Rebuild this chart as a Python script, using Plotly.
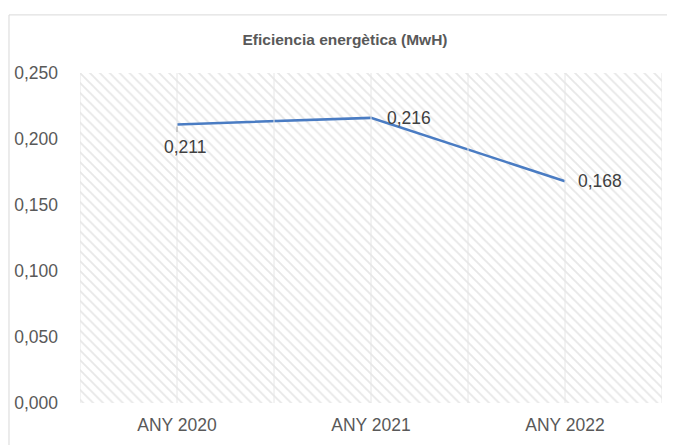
import plotly.graph_objects as go

categories = ["ANY 2020", "ANY 2021", "ANY 2022"]
values = [0.211, 0.216, 0.168]
label_texts = ["0,211", "0,216", "0,168"]
y_ticks = [0, 0.05, 0.10, 0.15, 0.20, 0.25]

FONT = "Liberation Sans, Arial"
GRAY = "#595959"
x_idx = list(range(len(categories)))

fig = go.Figure()

# hatched plot-area background
fig.add_trace(go.Scatter(
    x=[-0.5, 2.5, 2.5, -0.5, -0.5], y=[0, 0, 0.25, 0.25, 0],
    fill="toself", mode="none", fillcolor="rgba(0,0,0,0)",
    fillpattern=dict(shape="\\", fgcolor="#cfcfcf", bgcolor="white", size=7, solidity=0.26),
    hoverinfo="skip", showlegend=False,
))

fig.add_trace(go.Scatter(
    x=x_idx, y=values, mode="lines",
    line=dict(color="#4A7CC3", width=2.5),
    showlegend=False,
))

offsets = [(8, -23, "center"), (14, 0, "left"), (11, 0, "left")]
for xi, v, t, (dx, dy, xa) in zip(x_idx, values, label_texts, offsets):
    fig.add_annotation(x=xi, y=v, text=t, showarrow=False, xshift=dx, yshift=dy,
                       xanchor=xa, yanchor="middle",
                       font=dict(family=FONT, size=17.5, color="#404040"))

# small leader line for first label
fig.add_annotation(x=x_idx[0], y=values[0], ax=0, ay=9, text="", showarrow=True,
                   arrowhead=0, arrowwidth=1, arrowcolor="#a6a6a6", standoff=2)

fig.add_shape(type="rect", xref="paper", yref="paper", x0=-0.122, y0=-0.3, x1=1.1, y1=1.176,
              line=dict(color="#d9d9d9", width=1), fillcolor="rgba(0,0,0,0)", layer="below")

fig.update_layout(
    width=683, height=453,
    margin=dict(l=72, r=29, t=65, b=58, autoexpand=False),
    paper_bgcolor="white", plot_bgcolor="white",
    separators=",.",
    title=dict(text="<b>Eficiencia energètica (MwH)</b>", x=(243 + 447) / 2 / 683 - 8 / 683, xanchor="center",
               y=1 - 32 / 453, yanchor="middle",
               font=dict(family=FONT, size=15.5, color=GRAY)),
    font=dict(family=FONT, size=17, color=GRAY),
)
fig.update_xaxes(range=[-0.5, 2.5], tickvals=x_idx, ticktext=categories,
                 showgrid=False, zeroline=False, showline=False, ticks="",
                 ticklabelstandoff=9, automargin=False,
                 tickfont=dict(family=FONT, size=17.5, color=GRAY))
for g in [-0.5, 0, 0.5, 1, 1.5, 2, 2.5]:
    fig.add_vline(x=g, line=dict(color="#e6e6e6", width=1), layer="above")
fig.update_yaxes(range=[0, 0.25], tickvals=y_ticks, tickformat=".3f",
                 showgrid=True, gridcolor="#e6e6e6", zeroline=False, showline=False, ticks="",
                 ticklabelstandoff=21, automargin=False,
                 tickfont=dict(family=FONT, size=17.5, color=GRAY), layer="below traces")

fig.write_html("out.html")
